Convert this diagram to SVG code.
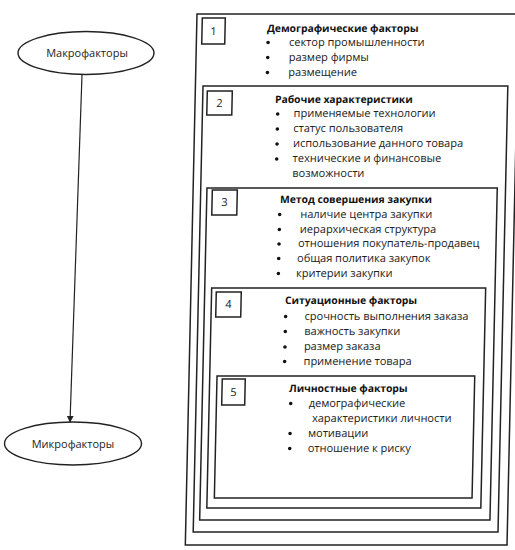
<svg xmlns="http://www.w3.org/2000/svg" width="515" height="550" viewBox="0 0 515 550">
<defs>
<marker id="arr" viewBox="0 0 10 10" refX="9" refY="5" markerWidth="7" markerHeight="7" markerUnits="userSpaceOnUse" orient="auto">
<path d="M0,0 L10,5 L0,10 z" fill="#222"/>
</marker>
</defs>
<style>
.bg{fill:#fff}
.frame{fill:none;stroke:#222;stroke-width:1.5}
.ell{fill:#fff;stroke:#222;stroke-width:1.4}
.num{font-family:"Open Sans","Liberation Sans",sans-serif;font-size:11px;fill:#222;text-anchor:middle}
.ttl{font-family:"Open Sans","Liberation Sans",sans-serif;font-size:10.3px;font-weight:bold;fill:#111}
.itm{font-family:"Open Sans","Liberation Sans",sans-serif;font-size:11px;fill:#222}
.lbl{font-family:"Open Sans","Liberation Sans",sans-serif;font-size:11px;fill:#222;text-anchor:middle}
.dot{fill:#111}
.conn{stroke:#222;stroke-width:1.2;fill:none}
</style>
<rect class="bg" x="0" y="0" width="515" height="550"/>

<g id="connectors">
<line class="conn" x1="82" y1="75" x2="70" y2="422" marker-end="url(#arr)"/>
</g>

<g id="macro">
<ellipse class="ell" cx="86" cy="53" rx="68" ry="21.5"/>
<text class="lbl" x="87" y="57">Макрофакторы</text>
</g>

<g id="micro">
<ellipse class="ell" cx="73" cy="443.5" rx="68.5" ry="21.5"/>
<text class="lbl" x="73" y="447.5">Микрофакторы</text>
</g>

<g transform="matrix(1 0 -0.022 1 0 0)">
<g id="box1">
<rect class="frame" x="197.3" y="14" width="321.7" height="531"/>
<rect class="frame" x="202.7" y="18" width="23" height="26"/>
<text class="num" x="214.2" y="35">1</text>
<text class="ttl" x="267.7" y="32">Демографические факторы</text>
<circle class="dot" cx="269" cy="42.5" r="1.8"/><text class="itm" x="290" y="46">сектор промышленности</text>
<circle class="dot" cx="269" cy="57.5" r="1.8"/><text class="itm" x="290" y="61">размер фирмы</text>
<circle class="dot" cx="269" cy="72.5" r="1.8"/><text class="itm" x="290" y="76">размещение</text>
</g>

<g id="box2">
<rect class="frame" x="204.9" y="86" width="304.8" height="446"/>
<rect class="frame" x="209.3" y="91" width="25" height="24"/>
<text class="num" x="221.8" y="107">2</text>
<text class="ttl" x="277.3" y="103">Рабочие характеристики</text>
<circle class="dot" cx="280.2" cy="114" r="1.8"/><text class="itm" x="296.2" y="117.5">применяемые технологии</text>
<circle class="dot" cx="280.2" cy="129" r="1.8"/><text class="itm" x="296.2" y="132.5">статус пользователя</text>
<circle class="dot" cx="280.2" cy="144" r="1.8"/><text class="itm" x="296.2" y="147.5">использование данного товара</text>
<circle class="dot" cx="280.2" cy="159" r="1.8"/><text class="itm" x="296.2" y="162.5">технические и финансовые</text>
<text class="itm" x="296.2" y="177">возможности</text>
</g>

<g id="box3">
<rect class="frame" x="211.1" y="188" width="290.3" height="332"/>
<rect class="frame" x="216.5" y="190" width="25" height="25"/>
<text class="num" x="229" y="206.5">3</text>
<text class="ttl" x="284.5" y="203.5">Метод совершения закупки</text>
<circle class="dot" cx="284.4" cy="214.5" r="1.8"/><text class="itm" x="305" y="218">наличие центра закупки</text>
<circle class="dot" cx="284.4" cy="229.5" r="1.8"/><text class="itm" x="305" y="233">иерархическая структура</text>
<circle class="dot" cx="284.4" cy="244" r="1.8"/><text class="itm" x="303.4" y="247.5">отношения покупатель-продавец</text>
<circle class="dot" cx="284.4" cy="258.5" r="1.8"/><text class="itm" x="302.8" y="262">общая политика закупок</text>
<circle class="dot" cx="284.4" cy="273.5" r="1.8"/><text class="itm" x="302.1" y="277">критерии закупки</text>
</g>

<g id="box4">
<rect class="frame" x="218" y="288" width="274" height="220"/>
<rect class="frame" x="222.7" y="292" width="25" height="25"/>
<text class="num" x="235.2" y="308.5">4</text>
<text class="ttl" x="291.7" y="304">Ситуационные факторы</text>
<circle class="dot" cx="292.6" cy="316.5" r="1.8"/><text class="itm" x="311.6" y="320">срочность выполнения заказа</text>
<circle class="dot" cx="292.6" cy="331.5" r="1.8"/><text class="itm" x="311.6" y="335">важность закупки</text>
<circle class="dot" cx="292.6" cy="347" r="1.8"/><text class="itm" x="311.6" y="350.5">размер заказа</text>
<circle class="dot" cx="292.6" cy="361.5" r="1.8"/><text class="itm" x="311.6" y="365">применение товара</text>
</g>

<g id="box5">
<rect class="frame" x="225.3" y="376" width="257.7" height="122"/>
<rect class="frame" x="230.6" y="379" width="23" height="26"/>
<text class="num" x="242.1" y="396">5</text>
<text class="ttl" x="297.6" y="392.5">Личностные факторы</text>
<circle class="dot" cx="299.6" cy="403.5" r="1.8"/><text class="itm" x="317.6" y="407">демографические</text>
<text class="itm" x="321.3" y="422">характеристики личности</text>
<circle class="dot" cx="299.6" cy="433.5" r="1.8"/><text class="itm" x="317.6" y="437">мотивации</text>
<circle class="dot" cx="299.6" cy="448.5" r="1.8"/><text class="itm" x="317.6" y="452">отношение к риску</text>
</g>
</g>
</svg>
